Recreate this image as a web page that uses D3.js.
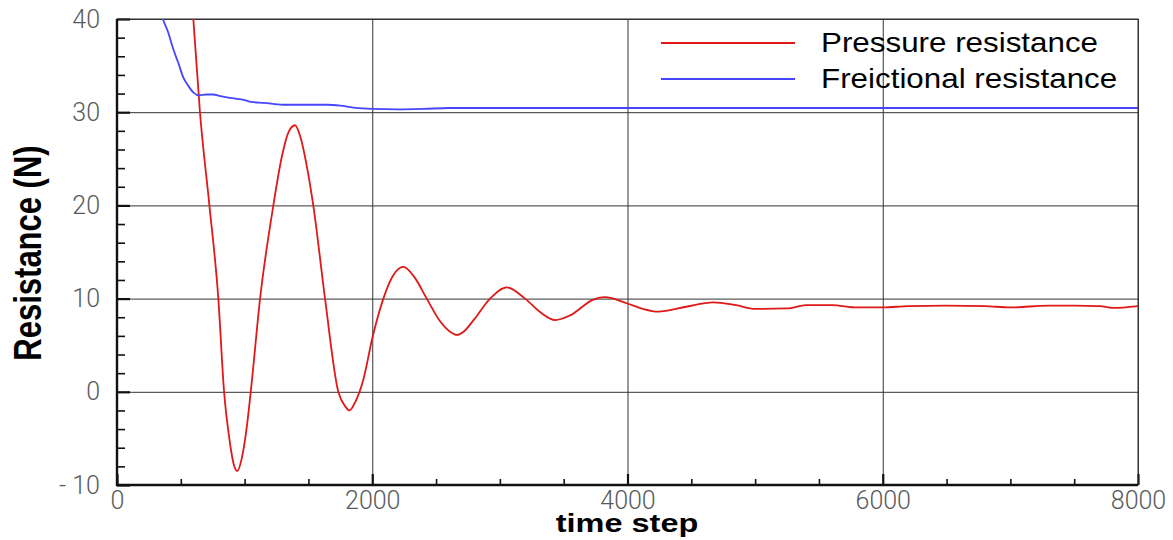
<!DOCTYPE html>
<html>
<head>
<meta charset="utf-8">
<script src="https://cdnjs.cloudflare.com/ajax/libs/d3/7.8.5/d3.min.js"></script>
<style>
	html, body { margin: 0; padding: 0; background: #fff; }
	svg { display: block; }
	.tickLabels text { font-family: Roboto, 'Liberation Sans', sans-serif; font-weight: 300; font-size: 25px; fill: #5a5a5a; }
</style>
</head>
<body>
<div id="chart"></div>
<script>
//===== DATA =====//

var xTicks = [0, 2000, 4000, 6000, 8000];
var xMinorTicks = [500, 1000, 1500, 2500, 3000, 3500, 4500, 5000, 5500, 6500, 7000, 7500];
var yTicks = [-10, 0, 10, 20, 30, 40];
var yTickLabels = ['- 10', '0', '10', '20', '30', '40'];
var yMinorTicks = [-8, -6, -4, -2, 2, 4, 6, 8, 12, 14, 16, 18, 22, 24, 26, 28, 32, 34, 36, 38];
var seriesNames = ['Pressure resistance', 'Freictional resistance'];

var pressureSteps = [560, 598, 650, 724, 794, 839, 880, 915, 943, 975, 1010, 1048, 1121, 1225, 1291, 1345, 1395, 1440, 1490, 1539,
	1630, 1734, 1790, 1821, 1870, 1930, 2003, 2087, 2160, 2244, 2330, 2427, 2530, 2610, 2662, 2720, 2800, 2923, 3054, 3197,
	3320, 3433, 3550, 3733, 3824, 3994, 4120, 4242, 4450, 4673, 4850, 5000, 5250, 5400, 5600, 5800, 6000, 6200, 6500, 6800,
	7000, 7300, 7500, 7700, 7800, 8000];
var pressureValues = [46, 40, 30, 20, 10, 0, -5, -7.8, -8.5, -7.3, -4.5, 0, 10, 20, 25.2, 27.9, 28.6, 27.2, 24.0, 19.9,
	10, 0, -1.6, -2.0, -1.0, 1.3, 5.9, 10, 12.4, 13.4, 12.3, 10, 7.6, 6.45, 6.1, 6.5, 7.8, 10, 11.2, 10,
	8.5, 7.7, 8.2, 9.9, 10.15, 9.5, 8.9, 8.6, 9.1, 9.6, 9.3, 8.9, 8.95, 9.3, 9.3, 9.05, 9.05, 9.2, 9.25, 9.2,
	9.05, 9.25, 9.25, 9.2, 9.0, 9.2];

var frictionSteps = [330, 360, 400, 440, 480, 520, 560, 600, 640, 700, 750, 820, 900, 1000, 1050, 1150, 1300, 1500, 1650, 1750,
	1850, 2000, 2200, 2400, 2600, 3000, 4000, 5000, 6000, 7000, 8000];
var frictionValues = [41.5, 40, 38.6, 36.8, 35.3, 33.7, 32.8, 32.1, 31.8, 31.9, 31.9, 31.7, 31.5, 31.3, 31.1, 31.0, 30.8, 30.8, 30.8, 30.7,
	30.5, 30.35, 30.3, 30.35, 30.45, 30.45, 30.45, 30.45, 30.45, 30.45, 30.45];

//===== SETUP =====//

var width = 1173, height = 540;
var plot = {left: 117, right: 1138, top: 19, bottom: 485};

var svg = d3.select('#chart')
	.append('svg')
	.attr('width', width)
	.attr('height', height);

var x = d3.scaleLinear().domain([0, 8000]).range([plot.left, plot.right]);
var y = d3.scaleLinear().domain([-10, 40]).range([plot.bottom, plot.top]);

svg.append('defs')
	.append('clipPath')
	.attr('id', 'plot-clip')
	.append('rect')
	.attr('x', plot.left).attr('y', plot.top)
	.attr('width', plot.right - plot.left)
	.attr('height', plot.bottom - plot.top);

function stripDomain(g) {
	g.select('.domain').remove();
}

//===== GRID =====//

svg.append('g')
	.attr('transform', 'translate(0,' + plot.bottom + ')')
	.call(d3.axisBottom(x).tickValues(xTicks).tickSize(-(plot.bottom - plot.top)).tickFormat(''))
	.call(stripDomain)
	.selectAll('line').attr('stroke', '#333').attr('stroke-width', 1);

svg.append('g')
	.attr('transform', 'translate(' + plot.left + ',0)')
	.call(d3.axisLeft(y).tickValues(yTicks).tickSize(-(plot.right - plot.left)).tickFormat(''))
	.call(stripDomain)
	.selectAll('line').attr('stroke', '#333').attr('stroke-width', 1);

// minor ticks
svg.append('g')
	.attr('transform', 'translate(0,' + plot.bottom + ')')
	.call(d3.axisBottom(x).tickValues(xMinorTicks).tickSize(-6).tickFormat(''))
	.call(stripDomain)
	.selectAll('line').attr('stroke', '#111').attr('stroke-width', 1.6);

svg.append('g')
	.attr('transform', 'translate(' + plot.left + ',0)')
	.call(d3.axisLeft(y).tickValues(yMinorTicks).tickSize(-8).tickFormat(''))
	.call(stripDomain)
	.selectAll('line').attr('stroke', '#111').attr('stroke-width', 1.6);

// major ticks + labels
svg.append('g')
	.classed('tickLabels', true)
	.attr('transform', 'translate(0,' + plot.bottom + ')')
	.call(d3.axisBottom(x).tickValues(xTicks).tickSize(-11).tickPadding(6).tickFormat(function (d) { return String(d); }))
	.call(stripDomain)
	.selectAll('line').attr('stroke', '#111').attr('stroke-width', 2.2);

svg.append('g')
	.classed('tickLabels', true)
	.attr('transform', 'translate(' + plot.left + ',0)')
	.call(d3.axisLeft(y).tickValues(yTicks).tickSize(-13).tickPadding(17).tickFormat(function (d, i) { return yTickLabels[i]; }))
	.call(stripDomain)
	.selectAll('line').attr('stroke', '#111').attr('stroke-width', 2.2);

// frame
svg.append('rect')
	.attr('x', plot.left).attr('y', plot.top)
	.attr('width', plot.right - plot.left)
	.attr('height', plot.bottom - plot.top)
	.attr('fill', 'none')
	.attr('stroke', '#333')
	.attr('stroke-width', 1);

svg.append('path')
	.attr('d', 'M' + plot.left + ',' + plot.top + 'V' + plot.bottom + 'H' + plot.right)
	.attr('fill', 'none')
	.attr('stroke', '#111')
	.attr('stroke-width', 2.4);

//===== SERIES =====//

var series = [
	{name: seriesNames[0], steps: pressureSteps, values: pressureValues, color: '#e01818'},
	{name: seriesNames[1], steps: frictionSteps, values: frictionValues, color: '#4646ff'}
];

var line = d3.line()
	.x(function (d) { return x(d[0]); })
	.y(function (d) { return y(d[1]); })
	.curve(d3.curveMonotoneX);

svg.append('g')
	.attr('clip-path', 'url(#plot-clip)')
	.selectAll('path')
	.data(series)
	.enter()
	.append('path')
	.attr('fill', 'none')
	.attr('stroke', function (d) { return d.color; })
	.attr('stroke-width', 1.8)
	.attr('d', function (d) {
		return line(d.steps.map(function (s, i) { return [s, d.values[i]]; }));
	});

//===== LEGEND =====//

var legend = svg.append('g').selectAll('g')
	.data(series)
	.enter()
	.append('g')
	.attr('transform', function (d, i) { return 'translate(0,' + (43 + i * 36) + ')'; });

legend.append('line')
	.attr('x1', 661).attr('x2', 795)
	.attr('stroke', function (d) { return d.color; })
	.attr('stroke-width', 1.8);

legend.append('text')
	.attr('transform', 'translate(821,9) scale(1.12,1)')
	.attr('font-family', "'Liberation Sans', Arial, sans-serif")
	.attr('font-size', 28)
	.attr('fill', '#000')
	.text(function (d) { return d.name; });

//===== AXIS TITLES =====//

svg.append('text')
	.attr('transform', 'translate(627,532) scale(1.3,1)')
	.attr('text-anchor', 'middle')
	.attr('font-family', "'Liberation Sans', Arial, sans-serif")
	.attr('font-weight', 'bold')
	.attr('font-size', 25)
	.text('time step');

svg.append('text')
	.attr('transform', 'translate(27,253) scale(1.27,1) rotate(-90)')
	.attr('text-anchor', 'middle')
	.attr('dy', '0.36em')
	.attr('font-family', "'Liberation Sans', Arial, sans-serif")
	.attr('font-weight', 'bold')
	.attr('font-size', 31)
	.text('Resistance (N)');
</script>
</body>
</html>
